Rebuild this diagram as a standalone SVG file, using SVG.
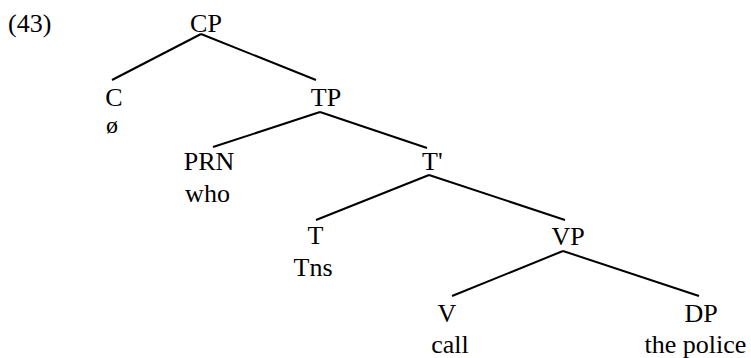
<svg xmlns="http://www.w3.org/2000/svg" width="751" height="358" viewBox="0 0 751 358">
<style>
text{font-family:"Liberation Serif","Times New Roman",serif;font-size:26px;fill:#000;text-anchor:middle}
.l{stroke:#000;stroke-width:2;fill:none}
</style>
<rect width="751" height="358" fill="#fff"/>
<text x="8" y="32" style="text-anchor:start">(43)</text>
<g id="connectors">
<line class="l" x1="201" y1="34" x2="112" y2="80"/>
<line class="l" x1="201" y1="34" x2="316" y2="80"/>
<line class="l" x1="320" y1="112" x2="213" y2="147"/>
<line class="l" x1="320" y1="112" x2="427" y2="148"/>
<line class="l" x1="429" y1="175" x2="316" y2="220"/>
<line class="l" x1="429" y1="175" x2="565" y2="220"/>
<line class="l" x1="563" y1="251" x2="452" y2="296"/>
<line class="l" x1="563" y1="251" x2="699" y2="296"/>
</g>
<g id="CP"><text x="206" y="32">CP</text></g>
<g id="C"><text x="114" y="106">C</text><text x="112" y="133" style="font-size:24px">ø</text></g>
<g id="TP"><text x="326" y="106">TP</text></g>
<g id="PRN"><text x="209" y="170">PRN</text><text x="207.5" y="202">who</text></g>
<g id="Tbar"><text x="422" y="170" style="text-anchor:start">T'</text></g>
<g id="T"><text x="315.5" y="244">T</text><text x="313" y="276">Tns</text></g>
<g id="VP"><text x="568" y="245">VP</text></g>
<g id="V"><text x="447" y="322">V</text><text x="450" y="353">call</text></g>
<g id="DP"><text x="701" y="322">DP</text><text x="695.5" y="353">the police</text></g>
</svg>
